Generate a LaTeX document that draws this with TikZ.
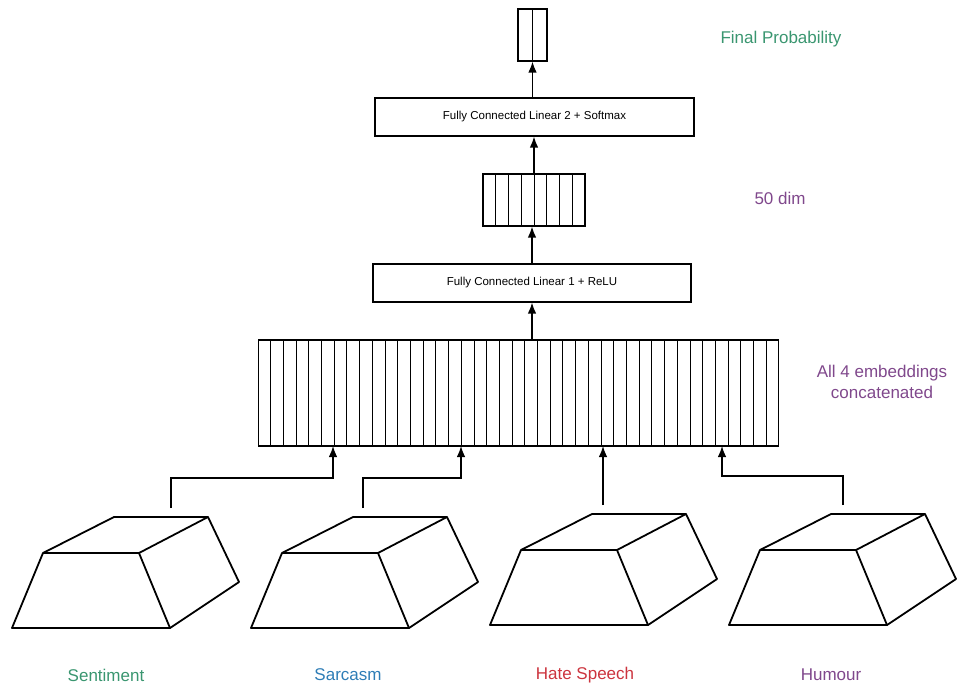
\documentclass[tikz,border=0pt]{standalone}
\usepackage{fontspec}
\setmainfont{Liberation Sans}
\usetikzlibrary{arrows.meta,positioning,calc}
\definecolor{labgreen}{RGB}{58,150,112}
\definecolor{labblue}{RGB}{46,125,182}
\definecolor{labred}{RGB}{204,52,62}
\definecolor{labpurple}{RGB}{128,72,140}
\tikzset{
    layer box/.style={rectangle, draw, line width=1.2pt, inner sep=0pt, align=center, font=\fontsize{11.5}{13}\selectfont},
    vec box/.style={rectangle, draw, line width=1.2pt, inner sep=0pt},
    cell line/.style={line width=1pt},
    side label/.style={font=\fontsize{17}{21}\selectfont, align=center},
    prism edge/.style={line width=1.8pt, line join=round},
    prism/.pic={
        \draw[prism edge] (0,0) -- (158,0) -- (127,-75) -- (31,-75) -- cycle;
        \draw[prism edge] (31,-75) -- (102,-111) -- (196,-111) -- (127,-75);
        \draw[prism edge] (196,-111) -- (227,-46) -- (158,0);
    }
}
\begin{document}
\begin{tikzpicture}[x=1pt, y=-1pt,
	>={Latex[length=11pt,width=8.5pt]},
	feed/.style={->, line width=1.3pt}]
	\useasboundingbox (0,0) rectangle (957,684);
	% layers
	\node[vec box, minimum width=29pt, minimum height=52pt] (probvec) at (532.5,35) {};
	\draw[cell line] (probvec.north) -- (probvec.south);
	\node[layer box, minimum width=319pt, minimum height=38pt] (fc2) at (534.5,117) {Fully Connected Linear 2 + Softmax};
	\node[vec box, minimum width=102pt, minimum height=52pt] (dimvec) at (534,200) {};
	\foreach \k in {1,...,7}
		\draw[cell line] ($(dimvec.north west)!\k/8!(dimvec.north east)$) -- ($(dimvec.south west)!\k/8!(dimvec.south east)$);
	\node[layer box, minimum width=318pt, minimum height=38pt] (fc1) at (532,283) {Fully Connected Linear 1 + ReLU};
	\node[vec box, minimum width=520pt, minimum height=106pt] (concat) at (518.5,393) {};
	\foreach \k in {1,...,40}
		\draw[cell line] ($(concat.north west)!\k/41!(concat.north east)$) -- ($(concat.south west)!\k/41!(concat.south east)$);
	% encoders
	\pic at (12,628) {prism};
	\pic at (251,628) {prism};
	\pic at (490,625) {prism};
	\pic at (729,625) {prism};
	\coordinate (sentTop) at (171,508);
	\coordinate (sarcTop) at (363,508);
	\coordinate (hateTop) at (603,505);
	\coordinate (humTop) at (843,505);
	\coordinate (sentIn) at (333,446);
	\coordinate (sarcIn) at (461,446);
	\coordinate (hateIn) at (603,446);
	\coordinate (humIn) at (722,446);
	% connectors
	\draw[feed] (sentTop) -- ++(0,-30) -| (sentIn);
	\draw[feed] (sarcTop) -- ++(0,-30) -| (sarcIn);
	\draw[feed] (hateTop) -- (hateIn);
	\draw[feed] (humTop) -- ++(0,-29) -| (humIn);
	\draw[feed] (concat.north -| fc1.south) -- (fc1.south);
	\draw[feed] (fc1.north) -- (fc1.north |- dimvec.south);
	\draw[feed] (dimvec.north) -- (dimvec.north |- fc2.south);
	\draw[feed] (fc2.north -| probvec.south) -- (probvec.south);
	% labels
	\node[side label, text=labgreen] (finallab) at (781,39) {Final Probability};
	\node[side label, text=labpurple] (dimlab) at (780,198) {50 dim};
	\node[side label, text=labpurple] (concatlab) at (882,382) {All 4 embeddings\\concatenated};
	\node[side label, text=labgreen] (sentlab) at (106,675) {Sentiment};
	\node[side label, text=labblue] (sarclab) at (348,675) {Sarcasm};
	\node[side label, text=labred] (hatelab) at (585,675) {Hate Speech};
	\node[side label, text=labpurple] (humlab) at (831,675) {Humour};
\end{tikzpicture}
\end{document}
